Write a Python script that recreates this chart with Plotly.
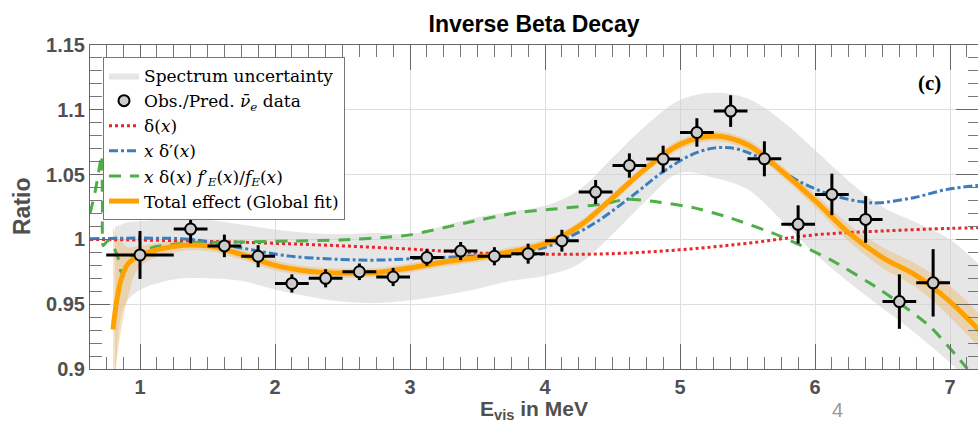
import plotly.graph_objects as go

# ---------------- data ----------------
data_x = [1.0, 1.375, 1.625, 1.875, 2.125, 2.375, 2.625, 2.875, 3.125, 3.375, 3.625, 3.875,
          4.125, 4.375, 4.625, 4.875, 5.125, 5.375, 5.625, 5.875, 6.125, 6.375, 6.625, 6.875]
data_y = [0.988, 1.008, 0.995, 0.987, 0.966, 0.970, 0.975, 0.971, 0.986, 0.991, 0.987, 0.989,
          0.999, 1.0365, 1.057, 1.062, 1.0825, 1.099, 1.0622, 1.0116, 1.0347, 1.0154, 0.952, 0.9665]
data_xerr = [0.25] + [0.125] * 23
data_yerr = [0.0185, 0.011, 0.0087, 0.0085, 0.007, 0.007, 0.0064, 0.007, 0.0064, 0.007, 0.007, 0.0077,
             0.0084, 0.0093, 0.0094, 0.0103, 0.011, 0.0122, 0.0135, 0.0147, 0.016, 0.018, 0.021, 0.026]

# spectrum uncertainty band
gray_x = [0.815, 0.85, 0.9, 1.0, 1.25, 1.5, 1.75, 2.0, 2.25, 2.5, 2.75, 3.0, 3.25, 3.5, 3.75, 4.0,
          4.25, 4.5, 4.75, 5.0, 5.25, 5.5, 5.75, 6.0, 6.25, 6.5, 6.75, 7.0, 7.25]
gray_upper = [1.010, 1.011, 1.013, 1.014, 1.0155, 1.015, 1.0115, 1.0077, 1.005, 1.004, 1.005, 1.004,
              1.0105, 1.017, 1.0215, 1.026, 1.038, 1.063, 1.088, 1.1075, 1.1132, 1.1088, 1.092, 1.069,
              1.045, 1.025, 1.013, 1.000, 0.977]
gray_lower = [0.88, 0.935, 0.952, 0.961, 0.969, 0.970, 0.968, 0.9614, 0.956, 0.952, 0.951, 0.953,
              0.957, 0.962, 0.968, 0.972, 0.981, 1.004, 1.030, 1.0514, 1.0476, 1.0386, 1.015, 0.989,
              0.967, 0.947, 0.927, 0.905, 0.88]

# total effect (global fit) and its band
fit_x = [0.8, 0.825, 0.86, 0.91, 1.0, 1.25, 1.5, 1.75, 2.0, 2.25, 2.5, 2.75, 3.0, 3.25, 3.5, 3.75,
         4.0, 4.25, 4.5, 4.75, 5.0, 5.25, 5.5, 5.75, 6.0, 6.25, 6.5, 6.75, 7.0, 7.25]
fit_y = [0.9305, 0.951, 0.969, 0.981, 0.9875, 0.9945, 0.995, 0.9885, 0.980, 0.9755, 0.974, 0.9745,
         0.978, 0.9825, 0.986, 0.9905, 0.9965, 1.010, 1.032, 1.055, 1.0733, 1.0797, 1.073, 1.053,
         1.030, 1.005, 0.986, 0.972, 0.952, 0.926]
fit_upper = [1.010, 1.003, 0.998, 0.994, 0.995, 0.999, 0.999, 0.9925, 0.984, 0.979, 0.9775, 0.978,
             0.9815, 0.986, 0.9895, 0.994, 1.000, 1.0135, 1.0355, 1.0585, 1.077, 1.0835, 1.077,
             1.057, 1.035, 1.0115, 0.994, 0.981, 0.964, 0.939]
fit_lower = [0.88, 0.905, 0.93, 0.955, 0.979, 0.990, 0.991, 0.9845, 0.976, 0.972, 0.9705, 0.971,
             0.9745, 0.979, 0.9825, 0.987, 0.993, 1.0065, 1.0285, 1.0515, 1.0695, 1.076, 1.069,
             1.049, 1.025, 0.9985, 0.978, 0.963, 0.940, 0.913]

# delta(x)
red_x = [0.63, 1.0, 1.5, 2.0, 2.5, 3.0, 3.5, 4.0, 4.5, 5.0, 5.5, 6.0, 6.5, 7.0, 7.25]
red_y = [1.0, 0.9995, 0.9985, 0.997, 0.995, 0.9925, 0.9895, 0.9885, 0.989, 0.992, 0.997, 1.0035,
         1.0065, 1.0085, 1.009]

# x delta'(x)
blue_x = [0.63, 1.0, 1.37, 1.74, 2.11, 2.48, 2.73, 3.0, 3.42, 3.67, 3.99, 4.24, 4.41, 4.66, 4.9,
          5.15, 5.37, 5.62, 5.86, 6.11, 6.36, 6.48, 6.73, 6.98, 7.22]
blue_y = [1.0005, 1.001, 1.0, 0.9936, 0.9871, 0.9846, 0.984, 0.985, 0.987, 0.9884, 0.9936, 1.005,
          1.0154, 1.0347, 1.054, 1.068, 1.0707, 1.0617, 1.046, 1.0347, 1.0288, 1.0283, 1.0322,
          1.0386, 1.0417]

# x delta(x) f'_E(x)/f_E(x)
green_x = [0.63, 0.67, 0.70, 0.715, 0.722, 0.728, 0.76, 0.80, 0.84, 0.86, 0.9, 0.95, 1.1, 1.37,
           1.74, 2.11, 2.48, 2.85, 3.0, 3.42, 3.79, 4.09, 4.41, 4.605, 4.78, 5.1, 5.37, 5.74, 6.11,
           6.48, 6.85, 7.13]
green_y = [1.02, 1.038, 1.056, 1.065, 1.03, 0.995, 0.999, 0.995, 0.985, 0.975, 0.979, 0.988, 0.994,
           0.9974, 0.998, 0.9987, 0.9995, 1.0018, 1.0035, 1.0129, 1.0206, 1.0237, 1.027, 1.0309,
           1.0296, 1.0245, 1.0167, 1.0026, 0.9846, 0.9614, 0.933, 0.90]

x_ticks = [1, 2, 3, 4, 5, 6, 7]
y_ticks = [0.9, 0.95, 1.0, 1.05, 1.1, 1.15]
y_tick_labels = ["0.9", "0.95", "1", "1.05", "1.1", "1.15"]

X_RANGE = [0.6296, 7.2074]
Y_RANGE = [0.9, 1.15]

# ---------------- figure ----------------
fig = go.Figure()

fig.add_trace(go.Scatter(x=gray_x, y=gray_lower, mode="lines", line=dict(width=0, shape="spline"),
                         showlegend=False, hoverinfo="skip"))
fig.add_trace(go.Scatter(x=gray_x, y=gray_upper, mode="lines", line=dict(width=0, shape="spline"),
                         fill="tonexty", fillcolor="rgba(205,205,205,0.5)",
                         name="Spectrum uncertainty", legendrank=1))

fig.add_trace(go.Scatter(x=fit_x, y=fit_lower, mode="lines", line=dict(width=0, shape="spline"),
                         showlegend=False, hoverinfo="skip"))
fig.add_trace(go.Scatter(x=fit_x, y=fit_upper, mode="lines", line=dict(width=0, shape="spline"),
                         fill="tonexty", fillcolor="rgba(240,180,90,0.38)",
                         showlegend=False, hoverinfo="skip"))

fig.add_trace(go.Scatter(x=red_x, y=red_y, mode="lines", name="δ(<i>x</i>)",
                         line=dict(color="#e8262b", width=3, dash="dot", shape="spline"),
                         legendrank=3))
fig.add_trace(go.Scatter(x=blue_x, y=blue_y, mode="lines", name="<i>x</i> δ′(<i>x</i>)",
                         line=dict(color="#3c7dbd", width=3, dash="dashdot", shape="spline"),
                         legendrank=4))
fig.add_trace(go.Scatter(x=green_x, y=green_y, mode="lines",
                         name="<i>x</i> δ(<i>x</i>) <i>f</i>′<sub><i>E</i></sub>(<i>x</i>)/<i>f</i><sub><i>E</i></sub>(<i>x</i>)",
                         line=dict(color="#4fae47", width=3, dash="12px,9px", shape="spline",
                                   smoothing=0.6),
                         legendrank=5))
fig.add_trace(go.Scatter(x=fit_x, y=fit_y, mode="lines", name="Total effect (Global fit)",
                         line=dict(color="#ffa200", width=5, shape="spline"), legendrank=6))

fig.add_trace(go.Scatter(x=data_x, y=data_y, mode="markers",
                         name="Obs./Pred. <i>ν̄</i><sub><i>e</i></sub> data",
                         marker=dict(size=11, color="#cccccc", line=dict(color="black", width=2)),
                         error_x=dict(type="data", array=data_xerr, color="black", thickness=3, width=0),
                         error_y=dict(type="data", array=data_yerr, color="black", thickness=3, width=0),
                         legendrank=2))

# invisible trace to carry the mirrored (top / right) frame axes
fig.add_trace(go.Scatter(x=X_RANGE, y=Y_RANGE, xaxis="x2", yaxis="y2", mode="markers",
                         marker=dict(opacity=0), showlegend=False, hoverinfo="skip"))

tick_font = dict(family="Liberation Sans", size=20, color="#505050", weight="bold")

fig.update_layout(
    width=978, height=429,
    margin=dict(l=90, r=0, t=45, b=60),
    plot_bgcolor="white", paper_bgcolor="white",
    title=dict(text="<b>Inverse Beta Decay</b>", x=0.5, xref="paper", xanchor="center",
               y=1 - 24 / 429, yanchor="middle",
               font=dict(family="Liberation Sans", size=23, color="black")),
    showlegend=True,
    legend=dict(x=(103 - 90) / 888, y=(369 - 57) / 324, xanchor="left", yanchor="top",
                traceorder="normal",
                bgcolor="white", bordercolor="#777777", borderwidth=1,
                font=dict(family="DejaVu Serif", size=17, color="black"),
                tracegroupgap=0),
    xaxis=dict(range=X_RANGE, tickmode="array", tickvals=x_ticks,
               ticks="inside", ticklen=25, tickcolor="#666666", tickwidth=1,
               showline=True, linecolor="#666666", linewidth=1, mirror=False,
               showgrid=True, gridcolor="#dedede", gridwidth=1, zeroline=False,
               tickfont=tick_font,
               minor=dict(ticks="inside", ticklen=12, dtick=0.125, tick0=0,
                          tickcolor="#777777", showgrid=False)),
    yaxis=dict(range=Y_RANGE, tickmode="array", tickvals=y_ticks, ticktext=y_tick_labels,
               ticks="inside", ticklen=20, tickcolor="#666666", tickwidth=1,
               showline=True, linecolor="#666666", linewidth=1, mirror=False,
               showgrid=True, gridcolor="#dedede", gridwidth=1, zeroline=False,
               tickfont=tick_font,
               minor=dict(ticks="inside", ticklen=12, dtick=0.01, tick0=0.9,
                          tickcolor="#777777", showgrid=False)),
    xaxis2=dict(range=X_RANGE, overlaying="x", side="top", anchor="y2",
                tickmode="array", tickvals=x_ticks, showticklabels=False,
                ticks="inside", ticklen=25, tickcolor="#666666",
                showline=True, linecolor="#666666", linewidth=1,
                showgrid=False, zeroline=False,
                minor=dict(ticks="inside", ticklen=12, dtick=0.125, tick0=0,
                           tickcolor="#777777", showgrid=False)),
    yaxis2=dict(range=Y_RANGE, overlaying="y", side="right", anchor="x2",
                tickmode="array", tickvals=y_ticks, showticklabels=False,
                ticks="inside", ticklen=22, tickcolor="#666666",
                showline=True, linecolor="#666666", linewidth=1,
                showgrid=False, zeroline=False,
                minor=dict(ticks="inside", ticklen=10, dtick=0.01, tick0=0.9,
                           tickcolor="#777777", showgrid=False)),
    annotations=[
        dict(text="<b>E<sub>vis</sub> in MeV</b>", xref="paper", yref="paper",
             x=0.5, y=(369 - 410) / 324, xanchor="center", yanchor="middle", showarrow=False,
             font=dict(family="Liberation Sans", size=21, color="#505050")),
        dict(text="<b>Ratio</b>", xref="paper", yref="paper", textangle=-90,
             x=(22 - 90) / 888, y=(369 - 206) / 324, xanchor="center", yanchor="middle",
             showarrow=False, font=dict(family="Liberation Sans", size=23, color="#505050")),
        dict(text="<b>(c)</b>", xref="paper", yref="paper",
             x=(929 - 90) / 888, y=(369 - 83) / 324, xanchor="center", yanchor="middle",
             showarrow=False, font=dict(family="Liberation Serif", size=21, color="black")),
        dict(text="4", xref="paper", yref="paper",
             x=(837 - 90) / 888, y=(369 - 410) / 324, xanchor="center", yanchor="middle",
             showarrow=False, font=dict(family="Liberation Sans Narrow, Liberation Sans", size=20,
                                        color="#9a9a9a")),
    ],
)

fig.write_html("out.html")
